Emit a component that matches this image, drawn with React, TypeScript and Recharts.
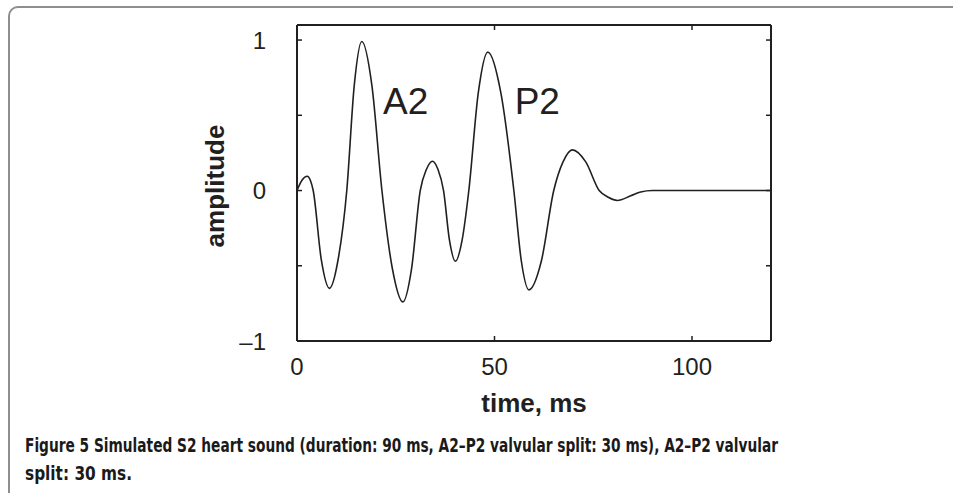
import React from 'react';
import { LineChart, Line, XAxis, YAxis, ReferenceDot } from 'recharts';

// simulated S2 sound (ms / amplitude)
const timeMs = [
  0, 1.3, 2.6, 3.35, 4.1, 6.15, 8.2, 10.4, 12.6, 14.5, 16.4, 18.95, 21.5, 24.15, 26.8, 29.0, 31.2,
  32.75, 34.3, 35.7, 37.1, 38.6, 40.1, 41.8, 43.5, 45.9, 48.3, 51.6, 54.9, 56.8, 58.7, 61.85, 65,
  67.35, 69.7, 73.1, 76.5, 78.8, 81.1, 84.5, 87, 90, 100, 110, 120,
];
const amplitude = [
  0, 0.07, 0.095, 0.07, 0, -0.46, -0.65, -0.46, 0, 0.7, 0.99, 0.7, 0, -0.52, -0.74, -0.52, 0,
  0.14, 0.195, 0.14, 0, -0.33, -0.47, -0.33, 0, 0.65, 0.92, 0.65, 0, -0.47, -0.66, -0.47, 0,
  0.19, 0.27, 0.19, 0, -0.045, -0.066, -0.035, -0.01, 0, 0, 0, 0,
];

const xTicks = [0, 50, 100];
const yTicks = [-1, -0.5, 0, 0.5, 1];
const yTickLabels: Record<string, string> = { '-1': '\u20131', '0': '0', '1': '1' };

const annotations = [
  { text: 'A2', t: 21.8, a: 0.51 },
  { text: 'P2', t: 55.1, a: 0.51 },
];

const data = timeMs.map((t, i) => ({ t, a: amplitude[i] }));

const INK = '#231f20';
const FONT = '"Liberation Sans", Arial, Helvetica, sans-serif';
const CAPTION_FONT = '"Liberation Sans Narrow", "DejaVu Sans Condensed", "Open Sans", sans-serif';
const CAPTION_SQUEEZE = 0.764;

const LeftTick = (props: any) => {
  const { x, y, payload } = props;
  const label = yTickLabels[String(payload.value)];
  return (
    <g>
      <line x1={x} x2={x + 5} y1={y} y2={y} stroke={INK} strokeWidth={1.5} />
      {label && (
        <text x={x - 31} y={y} textAnchor="end" dominantBaseline="central" fontSize={24} fontFamily={FONT} fill={INK}>
          {label}
        </text>
      )}
    </g>
  );
};

const RightTick = (props: any) => {
  const { x, y } = props;
  return <line x1={x - 5} x2={x} y1={y} y2={y} stroke={INK} strokeWidth={1.5} />;
};

const BottomTick = (props: any) => {
  const { x, y, payload } = props;
  return (
    <g>
      <line x1={x} x2={x} y1={y} y2={y - 5} stroke={INK} strokeWidth={1.5} />
      <text x={x} y={y + 25} textAnchor="middle" dominantBaseline="central" fontSize={24} fontFamily={FONT} fill={INK}>
        {payload.value}
      </text>
    </g>
  );
};

const TopTick = (props: any) => {
  const { x, y } = props;
  return <line x1={x} x2={x} y1={y} y2={y + 5} stroke={INK} strokeWidth={1.5} />;
};

const Anno = (props: any) => {
  const { viewBox, text } = props;
  return (
    <text x={viewBox.x} y={viewBox.y} fontSize={37} fontFamily={FONT} fill={INK}>
      {text}
    </text>
  );
};

const axisLine = { stroke: INK, strokeWidth: 2 };

export default function App() {
  return (
    <div style={{ position: 'absolute', left: 0, top: 0, width: 953, height: 493, overflow: 'hidden', background: '#fff' }}>
      <div
        style={{
          position: 'absolute', left: 8, top: 6, width: 1000, height: 600,
          border: '2px solid #8e8e8e', borderRadius: 10, boxSizing: 'border-box',
        }}
      />
      <div style={{ position: 'absolute', left: 0, top: 0 }}>
        <LineChart width={953} height={493} data={data} margin={{ top: 24, right: 181, bottom: 151, left: 296 }}>
          <XAxis xAxisId="b" dataKey="t" type="number" domain={[0, 120]} allowDataOverflow ticks={xTicks} interval={0}
            height={1} tickSize={0} tickMargin={0} axisLine={axisLine} tickLine={false} tick={<BottomTick />} />
          <XAxis xAxisId="t" orientation="top" dataKey="t" type="number" domain={[0, 120]} allowDataOverflow ticks={xTicks} interval={0}
            height={1} tickSize={0} tickMargin={0} axisLine={axisLine} tickLine={false} tick={<TopTick />} />
          <YAxis yAxisId="l" type="number" domain={[-1, 1.1]} allowDataOverflow ticks={yTicks} interval={0}
            width={1} tickSize={0} tickMargin={0} axisLine={axisLine} tickLine={false} tick={<LeftTick />} />
          <YAxis yAxisId="r" orientation="right" type="number" domain={[-1, 1.1]} allowDataOverflow ticks={yTicks} interval={0}
            width={1} tickSize={0} tickMargin={0} axisLine={axisLine} tickLine={false} tick={<RightTick />} />
          <Line xAxisId="b" yAxisId="l" type="monotone" dataKey="a" stroke={INK} strokeWidth={1.6} dot={false} isAnimationActive={false} />
          {annotations.map((n) => (
            <ReferenceDot key={n.text} xAxisId="b" yAxisId="l" x={n.t} y={n.a} r={0} fill="none" stroke="none"
              label={<Anno text={n.text} />} />
          ))}
        </LineChart>
      </div>
      <svg width={953} height={493} style={{ position: 'absolute', left: 0, top: 0, pointerEvents: 'none' }}>
        <text x={215} y={186} transform="rotate(-90 215 186)" textAnchor="middle" dominantBaseline="central"
          fontSize={26} fontWeight="bold" fontFamily={FONT} fill={INK}>amplitude</text>
        <text x={534} y={412} textAnchor="middle" fontSize={26} fontWeight="bold" fontFamily={FONT} fill={INK}>time, ms</text>
        {/* caption: condensed look by squeezing horizontally */}
        <g transform={`translate(25 0) scale(${CAPTION_SQUEEZE} 1)`}>
          <text x={0} y={452} fontSize={20} fontWeight="bold" fontFamily={CAPTION_FONT}
            fill="#1a1a1a" textLength={753 / CAPTION_SQUEEZE} lengthAdjust="spacingAndGlyphs">
            Figure 5 Simulated S2 heart sound (duration: 90 ms, A2–P2 valvular split: 30 ms), A2–P2 valvular
          </text>
          <text x={0} y={480} fontSize={20} fontWeight="bold" fontFamily={CAPTION_FONT}
            fill="#1a1a1a" textLength={107 / CAPTION_SQUEEZE} lengthAdjust="spacingAndGlyphs">
            split: 30 ms.
          </text>
        </g>
      </svg>
    </div>
  );
}
